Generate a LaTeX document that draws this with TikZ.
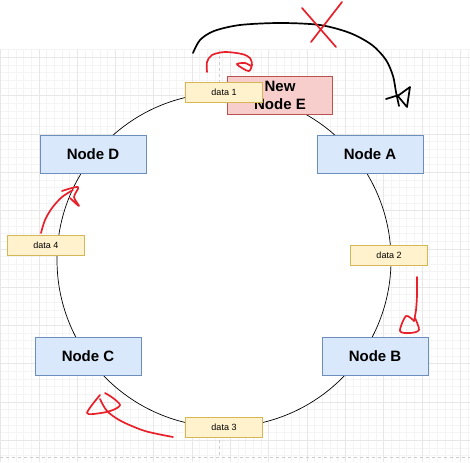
\documentclass[tikz,border=0pt]{standalone}
\usepackage{fontspec}
\setmainfont{Liberation Sans}
\usetikzlibrary{positioning}
\definecolor{nodefill}{HTML}{DAE8FC}
\definecolor{nodeline}{HTML}{6C8EBF}
\definecolor{datafill}{HTML}{FFF2CC}
\definecolor{dataline}{HTML}{D6B656}
\definecolor{newfill}{HTML}{F8CECC}
\definecolor{newline}{HTML}{B85450}
\definecolor{inkred}{HTML}{E8202A}
\definecolor{gridmajor}{HTML}{E7E7E7}
\definecolor{gridminor}{HTML}{F4F4F4}
\tikzstyle{ringnode} = [rectangle, minimum width=106pt, minimum height=38pt, inner sep=0pt, text centered, draw=nodeline, fill=nodefill, line width=0.8pt, font=\fontsize{15}{18}\selectfont\bfseries]
\tikzstyle{newnode} = [ringnode, minimum width=105pt, draw=newline, fill=newfill, align=center]
\tikzstyle{datatag} = [rectangle, minimum width=77pt, minimum height=20pt, inner sep=0pt, text centered, draw=dataline, fill=datafill, line width=0.8pt, font=\fontsize{9}{10}\selectfont]
\tikzstyle{ring} = [draw=black, fill=white, line width=0.7pt]
\tikzstyle{pen} = [line width=1.7pt, line cap=round, line join=round]
\tikzstyle{redpen} = [pen, draw=inkred]
\tikzstyle{blackpen} = [pen, draw=black]
\def\mstep{7.66}

\begin{document}
\begin{tikzpicture}[x=1pt, y=-1pt]
\useasboundingbox (0,0) rectangle (470,462);
\fill[white] (0,0) rectangle (470,462);

% page grid
\foreach \i in {0,...,61} \draw[gridminor, line width=0.5pt] ({0.5+\mstep*\i},49.6) -- ({0.5+\mstep*\i},462);
\foreach \j in {0,...,53} \draw[gridminor, line width=0.5pt] (0,{49.6+\mstep*\j}) -- (470,{49.6+\mstep*\j});
\foreach \i in {0,...,12} \draw[gridmajor, line width=0.6pt] ({0.5+38.3*\i},49.6) -- ({0.5+38.3*\i},462);
\foreach \j in {0,...,10} \draw[gridmajor, line width=0.6pt] (0,{57.3+38.3*\j}) -- (470,{57.3+38.3*\j});
\draw[gray!40, dashed, line width=0.6pt] (0,457) -- (470,457);
\draw[gray!40, dashed, line width=0.6pt] (219,49.6) -- (219,457);

% hash ring
\node (ctr) [inner sep=0pt] at (224,260) {};
\draw[ring] (ctr) circle [radius=167];

\node (nodeE) [newnode] at (280,95) {New\\Node E};
\node (data1) [datatag] at (224,92) {data 1};

\node (nodeD) [ringnode] at (93,154) {Node D};
\node (nodeA) [ringnode] at (370,154) {Node A};
\node (nodeB) [ringnode] at (375,356) {Node B};
\node (nodeC) [ringnode] at (88,356) {Node C};

\node (data2) [datatag] at (389,255) {data 2};
\node (data3) [datatag] at (224,427) {data 3};
\node (data4) [datatag] at (46,245) {data 4};

% hand-drawn marks
\draw[blackpen] plot[smooth] coordinates {(193,53) (200,40) (214,31) (240,25) (280,23) (320,25) (350,33) (372,45) (386,60) (393,76) (396,92) (399,106)};
\draw[blackpen] (386,99) -- (399,95) -- (410,87) -- (407,107) -- (397,95);
\draw[redpen] (302,8) -- (336,47);
\draw[redpen] (342,2) -- (311,42);

\draw[redpen] plot[smooth] coordinates {(207,72) (207,62) (212,55) (225,52) (242,54) (250,58) (252,65) (249,71) (242,68) (237,64) (245,63) (251,66)};
\draw[redpen] plot[smooth] coordinates {(417,277) (417,295) (416,310) (414,321)};
\draw[redpen] plot[smooth] coordinates {(414,321) (406,316) (400,331) (410,333) (419,330) (415,318)};
\draw[redpen] plot[smooth] coordinates {(173,437) (145,431) (121,421) (107,411) (100,399)};
\draw[redpen] plot[smooth] coordinates {(100,395) (87,413) (101,413) (113,410) (120,405) (113,398) (105,393)};
\draw[redpen] plot[smooth] coordinates {(41,233) (45,220) (52,208) (62,197) (73,190)};
\draw[redpen] plot[smooth] coordinates {(62,191) (78,187) (74,197) (79,206) (70,198)};
\end{tikzpicture}
\end{document}
